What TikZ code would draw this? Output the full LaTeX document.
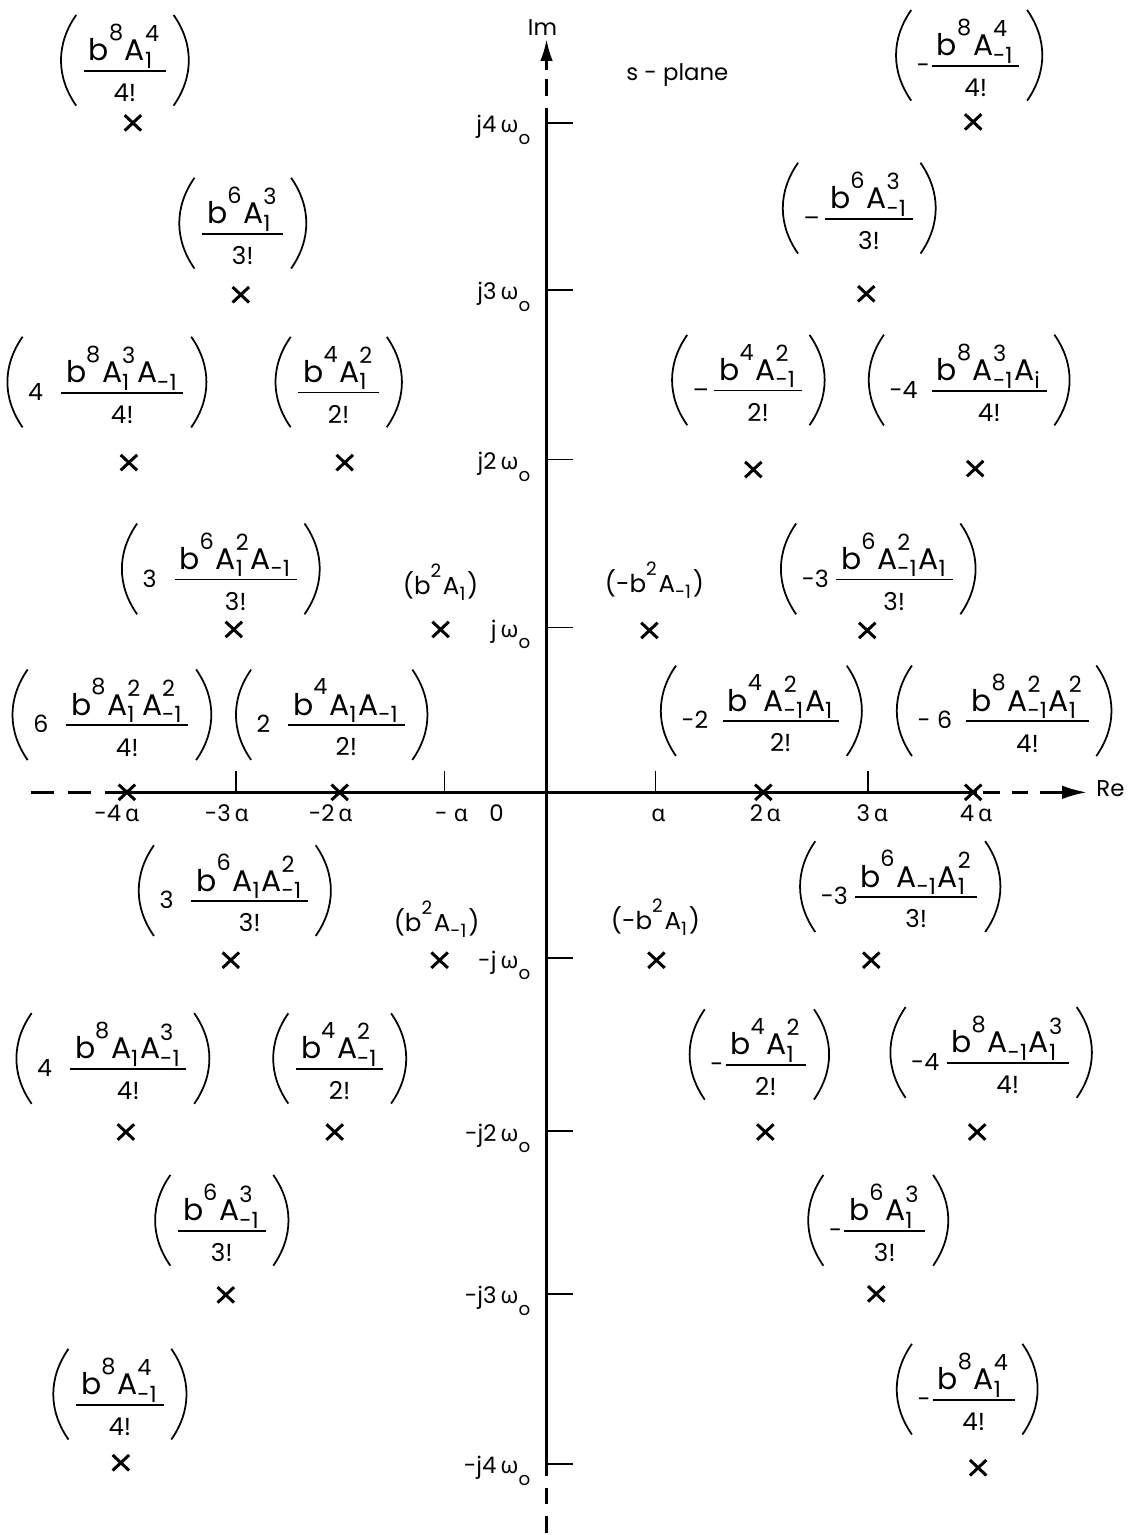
\documentclass[tikz,border=0pt]{standalone}
\usepackage{amsmath}
\usepackage{graphicx}
\usepackage{fontspec}
\setmainfont{Poppins}
\newfontfamily\grk{Noto Sans}
\usetikzlibrary{arrows.meta,shapes.misc}

\newcommand{\lbsize}{\fontsize{17}{20}\selectfont}
\newcommand{\dnsize}{\fontsize{14}{16}\selectfont}
\newcommand{\cfsize}{\fontsize{13.5}{16}\selectfont}
\newcommand{\smsize}{\fontsize{14}{17}\selectfont}
\newcommand{\tksize}{\fontsize{13}{15}\selectfont}

% letter with lower and upper index
\newsavebox{\ixbase}\newsavebox{\ixsub}\newsavebox{\ixsup}
\newlength{\ixwd}
\newcommand{\ix}[3]{%
  \sbox{\ixbase}{#1}\sbox{\ixsub}{\scalebox{0.75}{#2}}\sbox{\ixsup}{\scalebox{0.75}{#3}}%
  \usebox{\ixbase}%
  \setlength{\ixwd}{\wd\ixsub}\ifdim\wd\ixsup>\ixwd\setlength{\ixwd}{\wd\ixsup}\fi
  \rlap{\raisebox{-0.25em}{\usebox{\ixsub}}}%
  \rlap{\raisebox{\dimexpr\ht\ixbase-0.06em\relax}{\usebox{\ixsup}}}%
  \hspace*{\ixwd}\hspace{1pt}}
\newcommand{\fr}[2]{$\genfrac{}{}{1pt}{1}{\text{\lbsize\,#1\,}}{\text{\dnsize\rule{0pt}{16pt}#2}}$}
\newcommand{\alp}{{\grk α}}
\newcommand{\omo}{{\grk ω}\raisebox{-0.5em}{\scalebox{0.8}{o}}}

\tikzset{
  axis/.style={line width=1.5pt},
  axisdash/.style={line width=1.5pt, dash pattern=on 0.33cm off 0.24cm},
  tick/.style={line width=1pt},
  pole/.style={cross out, draw, line width=1.7pt, minimum width=0.27cm, minimum height=0.25cm, inner sep=0pt},
  lab/.style={font=\lbsize, inner xsep=3pt, inner ysep=2pt},
  small/.style={font=\smsize, inner sep=0pt},
  tlab/.style={font=\tksize, inner sep=0pt},
  paren/.style={line width=1pt}
}

\begin{document}
\begin{tikzpicture}[x=0.02cm, y=-0.02cm]
    \fill[white] (0,0) rectangle (1143,1535);

    % Axes
    \coordinate (reL) at (31,793);
    \coordinate (reA) at (124,793);
    \coordinate (reB) at (978,793);
    \coordinate (reC) at (984,793);
    \coordinate (reD) at (1057,793);
    \coordinate (reR) at (1088,793);
    \coordinate (imT) at (547,39);
    \coordinate (imA) at (547,70);
    \coordinate (imB) at (547,108);
    \coordinate (imC) at (547,1477);
    \coordinate (imD) at (547,1535);
    \draw[axisdash, dash pattern=on 0.47cm off 0.27cm] (reL) -- (reA);
    \draw[axis] (reA) -- (reB);
    \draw[axisdash] (reC) -- (reD);
    \draw[axis, -{Latex[length=0.5cm, width=0.27cm]}] (reD) -- (reR);
    \draw[axis] (imB) -- (imC);
    \draw[axisdash, dash phase=0.33cm] (imB) -- (imA);
    \draw[axisdash, dash phase=0.33cm] (imC) -- (imD);
    \draw[axis, -{Latex[length=0.44cm, width=0.25cm]}] (imA) -- (imT);

    \node[tlab] (im) at (543,28) {Im};
    \node[tlab, anchor=west] (re) at (1097,789) {Re};
    \node[tlab] (splane) at (678,75) {s - plane};

    % Ticks
    \foreach \y/\t [count=\i] in {123/j4, 290/j3, 460/j2, 628/j, 959/-j, 1132/-j2, 1295/-j3, 1465/-j4} {
        \draw[tick] (547,\y) -- (573,\y);
        \node[tlab, anchor=base east] (w\i) at (531,{\y+10}) {\t\,\omo};
    }
    \foreach \x in {236,445,656,869}
        \draw[tick] (\x,793) -- (\x,772);
    \foreach \x/\t [count=\i] in {117/-4\,\alp, 227/-3\,\alp, 331/-2\,\alp, 452/-\;\alp, 497/0, 659/\alp, 766/2\,\alp, 873/3\,\alp, 977/4\,\alp}
        \node[tlab, anchor=base] (r\i) at (\x,822) {\t};

    % Poles
    \foreach \x/\y [count=\i] in {133/123, 241/295, 129/463, 345/463, 234/630, 441/630, 127/793, 340/793,
        974/122, 867/294, 754/470, 976/469, 650/631, 868/631, 764/793, 974/793,
        231/961, 440/961, 126/1133, 335/1133, 226/1296, 121/1464,
        657/961, 872/961, 766/1133, 978/1133, 877/1295, 979/1469}
        \node[pole] (p\i) at (\x,\y) {};

    % Residues, upper left
    \node[lab] (l1) at (125,63) {\fr{\ix{b}{}{8}\ix{A}{1}{4}}{4!}};
    \node[lab] (l2) at (243,226) {\fr{\ix{b}{}{6}\ix{A}{1}{3}}{3!}};
    \node[lab] (l3) at (107,385) {{\cfsize 4}\hspace{9pt}\fr{\ix{b}{}{8}\ix{A}{1}{3}\ix{A}{-1}{}}{4!}};
    \node[lab] (l4) at (339,385) {\fr{\ix{b}{}{4}\ix{A}{1}{2}}{2!}};
    \node[lab] (l5) at (221,572) {{\cfsize 3}\hspace{9pt}\fr{\ix{b}{}{6}\ix{A}{1}{2}\ix{A}{-1}{}}{3!}};
    \node[small] (l6) at (441,583) {(\ix{b}{}{2}\ix{A}{1}{})};
    \node[lab] (l7) at (112,718) {{\cfsize 6}\hspace{9pt}\fr{\ix{b}{}{8}\ix{A}{1}{2}\ix{A}{-1}{2}}{4!}};
    \node[lab] (l8) at (332,718) {{\cfsize 2}\hspace{9pt}\fr{\ix{b}{}{4}\ix{A}{1}{}\ix{A}{-1}{}}{2!}};

    % Residues, upper right
    \node[lab] (l9) at (970,58) {{\cfsize -}\fr{\ix{b}{}{8}\ix{A}{-1}{4}}{4!}};
    \node[lab] (l10) at (860,211) {{\cfsize –}\hspace{2pt}\fr{\ix{b}{}{6}\ix{A}{-1}{3}}{3!}};
    \node[lab] (l11) at (749,383) {{\cfsize –}\hspace{2pt}\fr{\ix{b}{}{4}\ix{A}{-1}{2}}{2!}};
    \node[lab] (l12) at (970,383) {{\cfsize -4}\hspace{7pt}\fr{\ix{b}{}{8}\ix{A}{-1}{3}\ix{A}{i}{}}{4!}};
    \node[small] (l13) at (655,581) {(-\ix{b}{}{2}\ix{A}{-1}{})};
    \node[lab] (l14) at (879,572) {{\cfsize -3}\hspace{3pt}\fr{\ix{b}{}{6}\ix{A}{-1}{2}\ix{A}{1}{}}{3!}};
    \node[lab] (l15) at (762,714) {{\cfsize -2}\hspace{7pt}\fr{\ix{b}{}{4}\ix{A}{-1}{2}\ix{A}{1}{}}{2!}};
    \node[lab] (l16) at (1005,714) {{\cfsize - 6}\hspace{7pt}\fr{\ix{b}{}{8}\ix{A}{-1}{2}\ix{A}{1}{2}}{4!}};

    % Residues, lower left
    \node[lab] (l17) at (235,894) {{\cfsize 3}\hspace{9pt}\fr{\ix{b}{}{6}\ix{A}{1}{}\ix{A}{-1}{2}}{3!}};
    \node[small] (l18) at (437,920) {(\ix{b}{}{2}\ix{A}{-1}{})};
    \node[lab] (l19) at (113,1062) {{\cfsize 4}\hspace{9pt}\fr{\ix{b}{}{8}\ix{A}{1}{}\ix{A}{-1}{3}}{4!}};
    \node[lab] (l20) at (340,1062) {\fr{\ix{b}{}{4}\ix{A}{-1}{2}}{2!}};
    \node[lab] (l21) at (222,1224) {\fr{\ix{b}{}{6}\ix{A}{-1}{3}}{3!}};
    \node[lab] (l22) at (120,1398) {\fr{\ix{b}{}{8}\ix{A}{-1}{4}}{4!}};

    % Residues, lower right
    \node[small] (l23) at (656,918) {(-\ix{b}{}{2}\ix{A}{1}{})};
    \node[lab] (l24) at (901,890) {{\cfsize -3}\hspace{3pt}\fr{\ix{b}{}{6}\ix{A}{-1}{}\ix{A}{1}{2}}{3!}};
    \node[lab] (l25) at (760,1058) {{\cfsize -}\fr{\ix{b}{}{4}\ix{A}{1}{2}}{2!}};
    \node[lab] (l26) at (992,1056) {{\cfsize -4}\hspace{3pt}\fr{\ix{b}{}{8}\ix{A}{-1}{}\ix{A}{1}{3}}{4!}};
    \node[lab] (l27) at (879,1224) {{\cfsize -}\fr{\ix{b}{}{6}\ix{A}{1}{3}}{3!}};
    \node[lab] (l28) at (968,1393) {{\cfsize -}\fr{\ix{b}{}{8}\ix{A}{1}{4}}{4!}};

    % Large parentheses
    \foreach \n in {1,2,3,4,5,7,8,9,10,11,12,14,15,16,17,19,20,21,22,24,25,26,27,28} {
        \draw[paren] ([yshift=3pt]l\n.north west) to[bend right=35] (l\n.south west);
        \draw[paren] ([yshift=3pt]l\n.north east) to[bend left=35] (l\n.south east);
    }
\end{tikzpicture}
\end{document}
